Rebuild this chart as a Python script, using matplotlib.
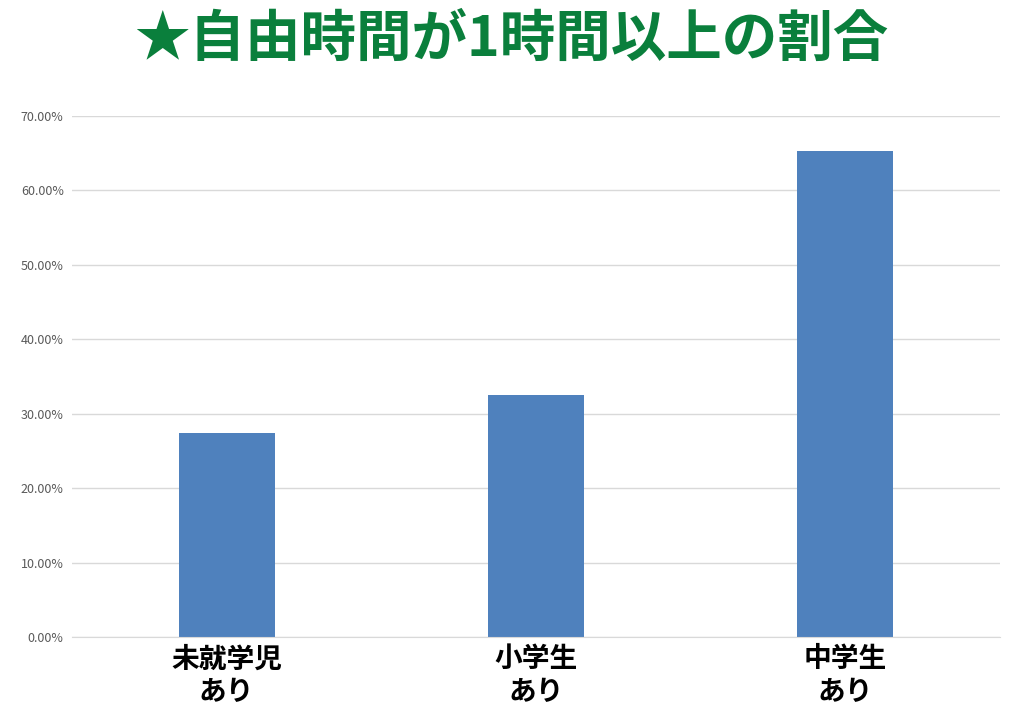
import matplotlib.pyplot as plt
from matplotlib.ticker import FuncFormatter

plt.rcParams["font.family"] = ["Noto Sans CJK JP", "DejaVu Sans"]

categories = ["未就学児\nあり", "小学生\nあり", "中学生\nあり"]
values = [0.274, 0.325, 0.653]
yticks = [0.0, 0.1, 0.2, 0.3, 0.4, 0.5, 0.6, 0.7]

fig = plt.figure(figsize=(10.24, 7.2), dpi=100)
ax = fig.add_axes([0.0703, 0.1153, 0.9063, 0.7236])

x = range(len(categories))
ax.bar(x, values, width=0.31, color="#4f81bd", zorder=2)
ax.set_xlim(-0.5, 2.5)
ax.set_ylim(0, 0.7)
ax.set_yticks(yticks)
ax.yaxis.set_major_formatter(FuncFormatter(lambda v, _: f"{v * 100:.2f}%"))
ax.tick_params(axis="y", labelsize=9, colors="#595959", length=0, pad=6)
ax.set_xticks(list(x), categories, fontsize=20, fontweight="bold")
ax.tick_params(axis="x", length=0, pad=6)
ax.grid(axis="y", color="#d9d9d9", lw=1, zorder=0)
for s in ["top", "right", "left"]:
    ax.spines[s].set_visible(False)
ax.spines["bottom"].set_color("#d9d9d9")

fig.text(0.5, 0.945, "★自由時間が1時間以上の割合", ha="center", va="center",
         fontsize=40, fontweight="bold", color="#0a7f3c")

fig.savefig("out.png", dpi=100)
